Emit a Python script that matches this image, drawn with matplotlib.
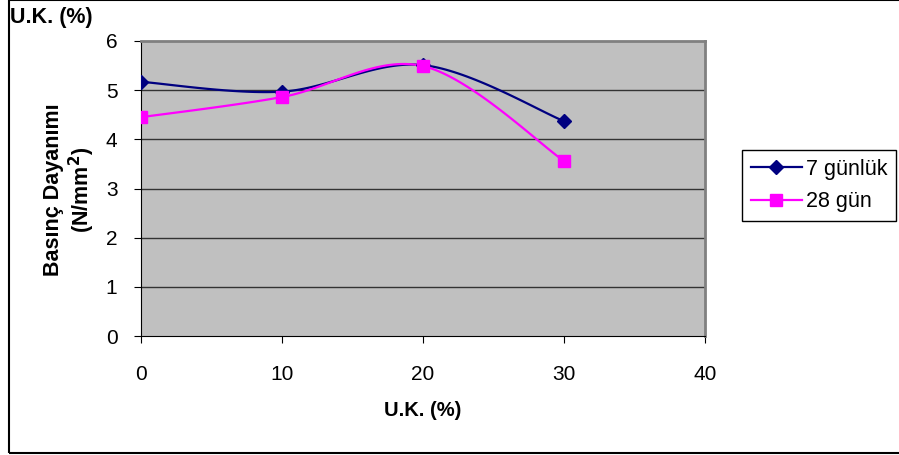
import numpy as np
from matplotlib import pyplot as plt
from matplotlib.patches import Rectangle
from matplotlib.lines import Line2D

uk = [0, 10, 20, 30]
gun7 = [5.17, 4.97, 5.51, 4.37]
gun28 = [4.45, 4.86, 5.49, 3.56]


def smooth(x, y, n=40):
    # smoothed line: cubic Bezier through the points
    p = np.column_stack([x, y]).astype(float)
    p = np.vstack([p[0], p, p[-1]])
    out = []
    for i in range(1, len(p) - 2):
        a = p[i]
        d = p[i + 1]
        b = a + (p[i + 1] - p[i - 1]) / 6
        c = d - (p[i + 2] - p[i]) / 6
        t = np.linspace(0, 1, n)[:, None]
        seg = (1 - t) ** 3 * a + 3 * (1 - t) ** 2 * t * b + 3 * (1 - t) * t ** 2 * c + t ** 3 * d
        out.append(seg if i == 1 else seg[1:])
    s = np.vstack(out)
    return s[:, 0], s[:, 1]


plt.rcParams['font.family'] = ['Liberation Sans', 'DejaVu Sans']

fig = plt.figure(figsize=(8.99, 4.55), dpi=100)
ax = fig.add_axes([141 / 899, 1 - 336 / 455, 564 / 899, 295 / 455])
ax.set_facecolor('#C0C0C0')

for yv in range(1, 6):
    ax.axhline(yv, color='#333333', lw=1, zorder=1)

sx, sy = smooth(uk, gun7)
ax.plot(sx, sy, color='#000080', lw=1.6, zorder=3)
ax.plot(uk, gun7, ls='none', marker='D', ms=7, color='#000080', zorder=4)
sx, sy = smooth(uk, gun28)
ax.plot(sx, sy, color='#FF00FF', lw=1.6, zorder=3)
ax.plot(uk, gun28, ls='none', marker='s', ms=8, color='#FF00FF', zorder=4)

ax.set_xlim(0, 40)
ax.set_ylim(0, 6)
ax.set_xticks([0, 10, 20, 30, 40])
ax.set_yticks(range(0, 7))
ax.tick_params(axis='x', direction='out', length=5, pad=16, labelsize=15)
ax.tick_params(axis='y', direction='out', length=5, pad=12, labelsize=15)
for side in ['top', 'right']:
    ax.spines[side].set_color('#808080')
    ax.spines[side].set_linewidth(2)
for side in ['left', 'bottom']:
    ax.spines[side].set_color('black')

fig.text(423 / 899, 1 - 411 / 455, 'U.K. (%)', fontsize=14.5, fontweight='bold',
         ha='center', va='center')
fig.text(70 / 899, 1 - 190 / 455, 'Basınç Dayanımı\n(N/mm$^\\mathbf{2}$)', fontsize=15.5,
         fontweight='bold', rotation=90, ha='center', va='center', linespacing=1.1)
fig.text(10 / 899, 1 - 18 / 455, 'U.K. (%)', fontsize=15.5, fontweight='bold',
         ha='left', va='center')

h1 = Line2D([], [], color='#000080', marker='D', ms=7, lw=1.6)
h2 = Line2D([], [], color='#FF00FF', marker='s', ms=8, lw=1.6)
leg = fig.legend([h1, h2], ['7 günlük', '28 gün'], loc='upper left',
                 bbox_to_anchor=(742 / 899, 1 - 150 / 455), fontsize=15.5,
                 fancybox=False, framealpha=1, edgecolor='black',
                 handlelength=2.4, handletextpad=0.15, borderpad=0.4,
                 labelspacing=0.55, borderaxespad=0)
leg.get_frame().set_linewidth(1)

fig.patches.append(Rectangle((9 / 899, 2 / 455), 1, 1 - 2 / 455, transform=fig.transFigure,
                             fill=False, edgecolor='black', lw=1.5))

fig.savefig('out.png', dpi=100)
